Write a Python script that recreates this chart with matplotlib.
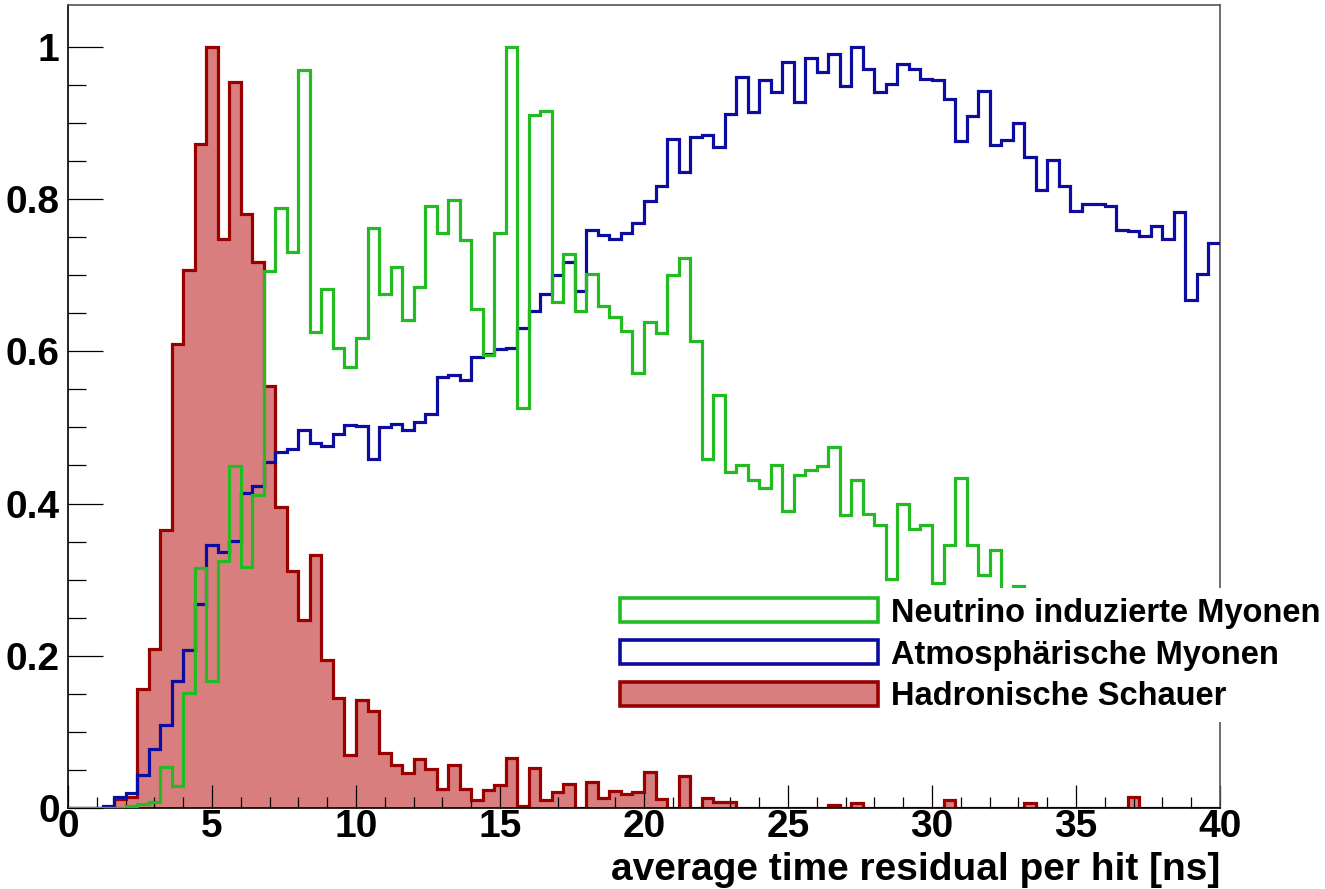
import numpy as np
import matplotlib.pyplot as plt
from matplotlib.patches import Patch
from matplotlib.ticker import MultipleLocator, FixedLocator

plt.rcParams['font.family'] = ['Liberation Sans', 'DejaVu Sans']
plt.rcParams['font.weight'] = 'bold'
plt.rcParams['axes.labelweight'] = 'bold'

# binning: 100 bins from 0 to 40 ns
x_min, x_max, n_bins = 0, 40, 100

# normalised histograms (one value per 0.4 ns bin)
neutrino = [
    0, 0, 0, 0, 0, 0.002, 0.005, 0.008, 0.054, 0.029,
    0.151, 0.315, 0.167, 0.324, 0.449, 0.317, 0.411, 0.705, 0.788, 0.73,
    0.969, 0.625, 0.682, 0.604, 0.58, 0.618, 0.762, 0.675, 0.711, 0.641,
    0.684, 0.791, 0.756, 0.799, 0.746, 0.656, 0.595, 0.756, 1.0, 0.525,
    0.911, 0.916, 0.665, 0.728, 0.653, 0.702, 0.66, 0.645, 0.627, 0.571,
    0.638, 0.624, 0.70, 0.723, 0.613, 0.458, 0.543, 0.442, 0.451, 0.431,
    0.42, 0.451, 0.39, 0.437, 0.444, 0.449, 0.474, 0.385, 0.431, 0.386,
    0.372, 0.301, 0.399, 0.367, 0.372, 0.296, 0.346, 0.433, 0.346, 0.306,
    0.339, 0.26, 0.292, 0.25, 0.23, 0.24, 0.21, 0.22, 0.20, 0.19,
    0.21, 0.18, 0.17, 0.19, 0.16, 0.17, 0.15, 0.16, 0.14, 0.15,
]
atmospheric = [
    0, 0, 0, 0.003, 0.014, 0.02, 0.043, 0.078, 0.109, 0.167,
    0.207, 0.268, 0.346, 0.336, 0.351, 0.414, 0.423, 0.454, 0.468, 0.472,
    0.496, 0.48, 0.475, 0.491, 0.503, 0.502, 0.458, 0.50, 0.505, 0.496,
    0.507, 0.517, 0.566, 0.569, 0.562, 0.592, 0.596, 0.603, 0.604, 0.63,
    0.653, 0.675, 0.70, 0.718, 0.679, 0.76, 0.753, 0.747, 0.756, 0.768,
    0.798, 0.817, 0.879, 0.836, 0.882, 0.884, 0.868, 0.912, 0.961, 0.914,
    0.956, 0.941, 0.98, 0.927, 0.985, 0.967, 0.99, 0.949, 1.0, 0.971,
    0.941, 0.951, 0.977, 0.971, 0.958, 0.956, 0.932, 0.876, 0.909, 0.942,
    0.871, 0.877, 0.90, 0.855, 0.812, 0.852, 0.817, 0.785, 0.794, 0.793,
    0.791, 0.76, 0.758, 0.752, 0.764, 0.747, 0.783, 0.667, 0.702, 0.742,
]
hadronic = [
    0, 0, 0, 0, 0.012, 0.014, 0.156, 0.209, 0.365, 0.609,
    0.707, 0.872, 1.0, 0.747, 0.954, 0.78, 0.717, 0.555, 0.395, 0.311,
    0.247, 0.332, 0.194, 0.144, 0.070, 0.142, 0.127, 0.072, 0.056, 0.046,
    0.065, 0.051, 0.025, 0.057, 0.025, 0.011, 0.024, 0.030, 0.066, 0.002,
    0.053, 0.011, 0.021, 0.032, 0, 0.034, 0.013, 0.022, 0.018, 0.021,
    0.047, 0.012, 0, 0.042, 0, 0.013, 0.008, 0.008, 0, 0,
    0, 0, 0, 0, 0, 0, 0.004, 0, 0.006, 0,
    0, 0, 0, 0, 0, 0, 0.011, 0, 0, 0,
    0, 0, 0, 0.007, 0, 0, 0, 0, 0, 0,
    0, 0, 0.015, 0, 0, 0, 0, 0, 0, 0,
]
labels = ['Neutrino induzierte Myonen', 'Atmosphärische Myonen', 'Hadronische Schauer']

x_ticks = [0, 5, 10, 15, 20, 25, 30, 35, 40]
y_ticks = [0, 0.2, 0.4, 0.6, 0.8, 1.0]
y_tick_labels = ['0', '0.2', '0.4', '0.6', '0.8', '1']

green = '#22bb22'
blue = '#0c0ca0'
red_line = '#990000'
red_fill = '#d97e7e'

edges = np.linspace(x_min, x_max, n_bins + 1)

fig = plt.figure(figsize=(13.25, 8.89), dpi=100)
ax = fig.add_axes([68 / 1325, 1 - 808 / 889, 1152 / 1325, 803 / 889])

# histograms (ROOT style: filled hadronic, outlined muons)
ax.stairs(hadronic, edges, fill=True, facecolor=red_fill, edgecolor='none', baseline=0, zorder=1)
ax.stairs(hadronic, edges, color=red_line, lw=2.3, baseline=None, zorder=2)
ax.stairs(atmospheric, edges, color=blue, lw=2.3, baseline=None, zorder=3)
ax.stairs(neutrino, edges, color=green, lw=2.3, baseline=None, zorder=4)

ax.set_xlim(x_min, x_max)
ax.set_ylim(0, 1.055)
ax.set_xticks(x_ticks, [str(t) for t in x_ticks])
ax.set_yticks(y_ticks, y_tick_labels)
ax.xaxis.set_minor_locator(MultipleLocator(1))
ax.yaxis.set_minor_locator(FixedLocator(np.arange(0, 1.001, 0.05)))
ax.tick_params(axis='x', which='major', direction='in', length=16.5, width=0.9, labelsize=28, pad=1)
ax.tick_params(axis='x', which='minor', direction='in', length=8, width=0.9)
ax.tick_params(axis='y', which='major', direction='in', length=25, width=0.9, labelsize=28, pad=6)
ax.tick_params(axis='y', which='minor', direction='in', length=13, width=0.9)

for side in ['left', 'bottom']:
    ax.spines[side].set_color('black')
    ax.spines[side].set_linewidth(1.2)
for side in ['top', 'right']:
    ax.spines[side].set_color('#555555')
    ax.spines[side].set_linewidth(1.2)

ax.set_xlabel('average time residual per hit [ns]', loc='right', fontsize=28,
              fontweight='bold', labelpad=5)

handles = [
    Patch(facecolor='white', edgecolor=green, lw=2.6, label=labels[0]),
    Patch(facecolor='white', edgecolor=blue, lw=2.6, label=labels[1]),
    Patch(facecolor=red_fill, edgecolor=red_line, lw=2.6, label=labels[2]),
]
leg = ax.legend(handles=handles, loc='upper left', bbox_to_anchor=(610 / 1325, 1 - 588 / 889),
                bbox_transform=fig.transFigure, fontsize=23.5, handlelength=7.9, handleheight=0.75,
                handletextpad=0.42, labelspacing=0.33, borderpad=0.3, borderaxespad=0,
                frameon=True, fancybox=False, framealpha=1, facecolor='white', edgecolor='none')
leg.set_zorder(10)

fig.savefig('out.png', dpi=100)
